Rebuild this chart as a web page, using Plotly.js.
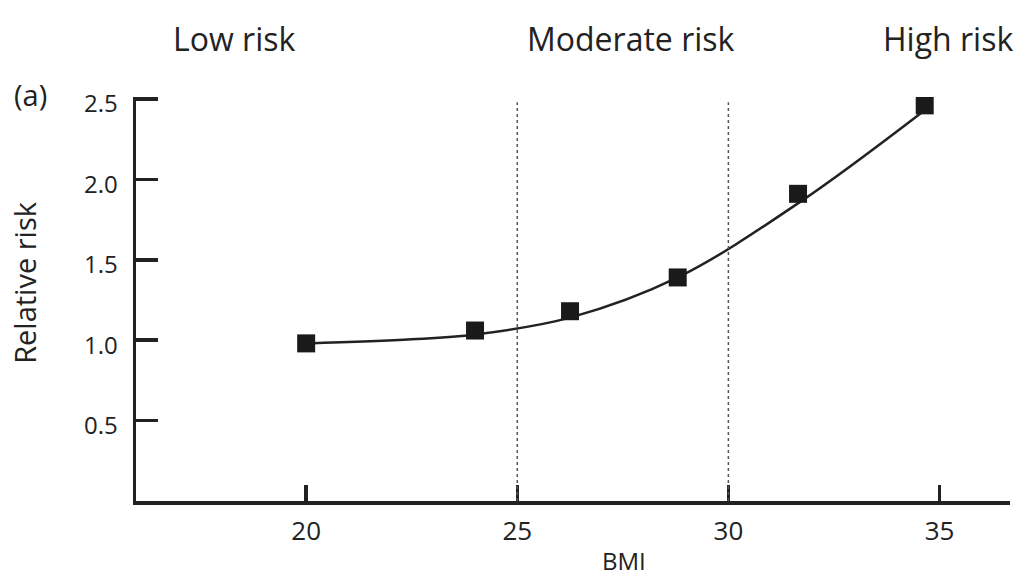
<!DOCTYPE html>
<html>
<head>
<meta charset="utf-8">
<script src="https://cdn.plot.ly/plotly-3.0.1.min.js"></script>
<style>html,body{margin:0;padding:0;background:#fff;}#chart{width:1020px;height:577px;}</style>
</head>
<body>
<div id="chart"></div>
<script>
// Measured points (BMI vs relative risk)
var bmi = [20.0, 24.0, 26.25, 28.8, 31.65, 34.65];
var relRisk = [0.98, 1.06, 1.18, 1.39, 1.91, 2.46];
// Fitted curve
var curveBmi = [20.0, 22.5, 24.0, 26.25, 28.8, 31.7, 34.65];
var curveRisk = [0.98, 1.005, 1.035, 1.14, 1.39, 1.86, 2.43];
// Risk-category cut-offs and labels
var cutoffs = [25, 30];
var zoneLabels = ["Low risk", "Moderate risk", "High risk"];
var zoneLabelBmi = [18.3, 27.7, 35.2];
// Ticks
var xTicks = [20, 25, 30, 35];
var yTicks = [0.5, 1.0, 1.5, 2.0, 2.5];
var yTickText = ["0.5", "1.0", "1.5", "2.0", "2.5"];

var FONT = "Open Sans, Noto Sans, sans-serif";
var INK = "#222";

var traces = [
  {x: curveBmi, y: curveRisk, mode: "lines", type: "scatter", line: {shape: "spline", smoothing: 1, color: INK, width: 2.5}, hoverinfo: "skip"},
  {x: bmi, y: relRisk, mode: "markers", type: "scatter", marker: {symbol: "square", size: 18, color: "#1a1a1a"}}
];

var shapes = cutoffs.map(function (c) {
  return {type: "line", xref: "x", yref: "y", x0: c, x1: c, y0: 0, y1: 2.48,
          line: {color: "#555", width: 1.5, dash: "dot"}};
});

var annotations = zoneLabels.map(function (t, i) {
  return {text: t, xref: "x", yref: "paper", x: zoneLabelBmi[i], y: 1.146, showarrow: false,
          xanchor: "center", yanchor: "middle", font: {family: FONT, size: 32, color: INK}};
});
annotations.push({text: "(a)", xref: "paper", yref: "paper", x: -0.121, y: 1.005, showarrow: false,
  xanchor: "center", yanchor: "middle", font: {family: FONT, size: 29, color: INK}});
annotations.push({text: "Relative risk", xref: "paper", yref: "paper", x: -0.127, y: 0.54, showarrow: false,
  textangle: -90, xanchor: "center", yanchor: "middle", font: {family: FONT, size: 29, color: INK}});
annotations.push({text: "BMI", xref: "paper", yref: "paper", x: 0.558, y: -0.148, showarrow: false,
  xanchor: "center", yanchor: "middle", font: {family: FONT, size: 24, color: INK}});

var layout = {
  width: 1020, height: 577,
  margin: {l: 136, r: 10, t: 97, b: 76},
  paper_bgcolor: "#fff", plot_bgcolor: "#fff",
  showlegend: false,
  xaxis: {range: [15.97, 36.67], tickvals: xTicks, ticks: "inside", ticklen: 16, tickwidth: 3.5,
          tickcolor: INK, showline: true, linewidth: 3.5, linecolor: INK, showgrid: false, zeroline: false,
          tickfont: {family: FONT, size: 26, color: INK}, ticklabelstandoff: 4},
  yaxis: {range: [0, 2.512], tickvals: yTicks, ticktext: yTickText, ticks: "inside", ticklen: 22, tickwidth: 3.5,
          tickcolor: INK, showline: true, linewidth: 3.5, linecolor: INK, showgrid: false, zeroline: false,
          tickfont: {family: FONT, size: 24, color: INK}, ticklabelstandoff: 10, ticklabelshift: 5},
  shapes: shapes,
  annotations: annotations
};

Plotly.newPlot("chart", traces, layout, {displayModeBar: false, staticPlot: true});
</script>
</body>
</html>
